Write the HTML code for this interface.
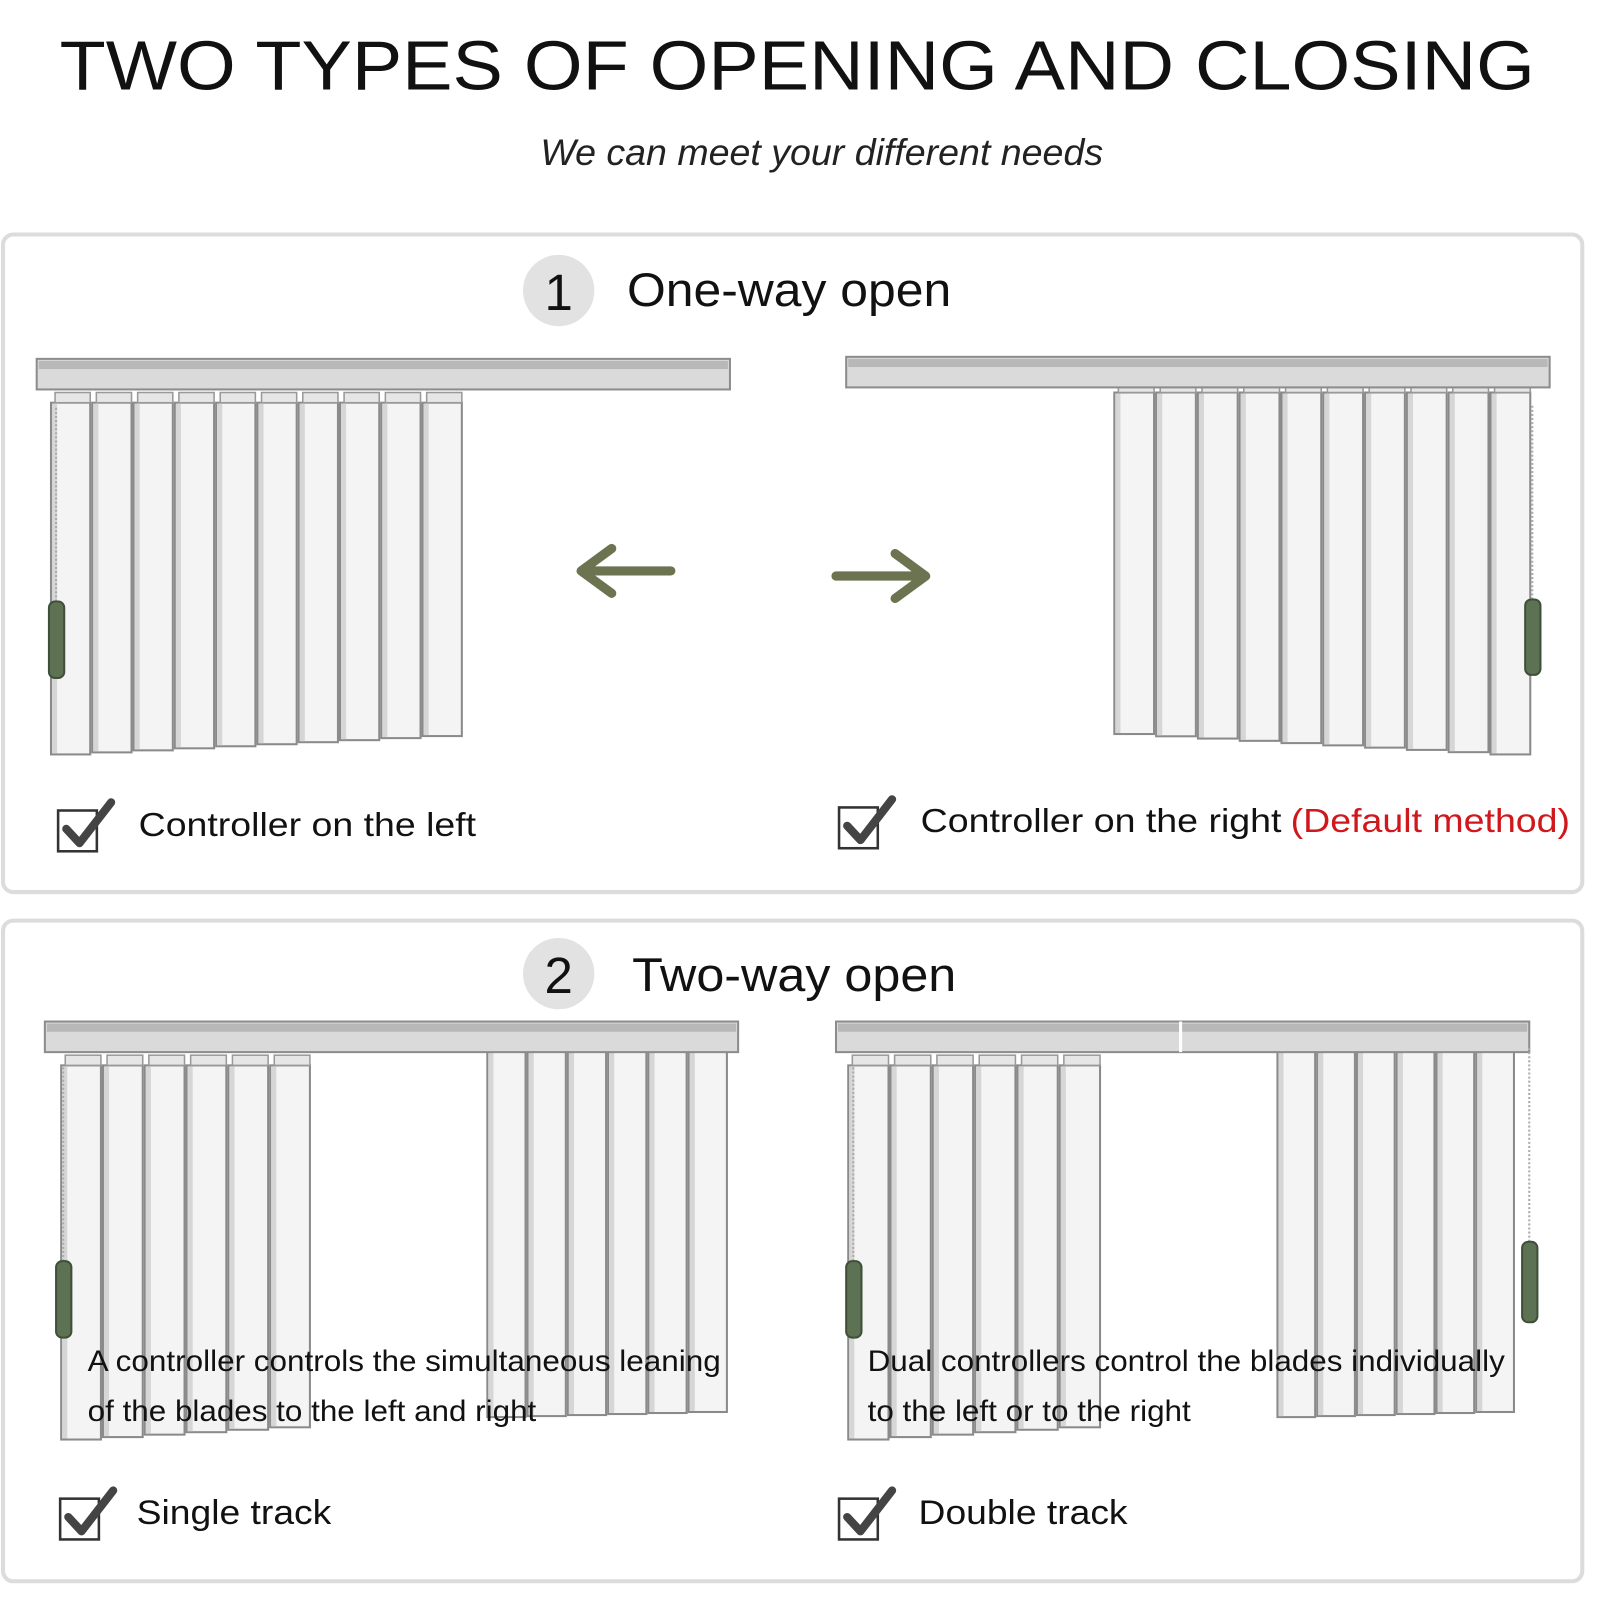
<!DOCTYPE html>
<html><head><meta charset="utf-8"><style>
html,body{margin:0;padding:0;background:#fff;overflow:hidden;}
svg{display:block;font-family:"Liberation Sans",sans-serif;}
</style></head><body>
<svg id="s" width="1600" height="1600" viewBox="0 0 1600 1600">
<rect x="0" y="0" width="1600" height="1600" fill="#fff"/>
<g transform="scale(1.0195)">
<text x="782" y="88" font-size="68" text-anchor="middle" textLength="1447" lengthAdjust="spacingAndGlyphs" fill="#111">TWO TYPES OF OPENING AND CLOSING</text>
<text x="806" y="162" font-size="36" font-style="italic" text-anchor="middle" textLength="552" lengthAdjust="spacingAndGlyphs" fill="#222">We can meet your different needs</text>

<rect x="3" y="230" width="1549" height="645" rx="10" fill="#fff" stroke="#dcdcdc" stroke-width="4"/>
<rect x="3" y="903" width="1549" height="648" rx="10" fill="#fff" stroke="#dcdcdc" stroke-width="4"/>

<circle cx="548" cy="285" r="35" fill="#e2e2e2"/>
<text x="548" y="304" font-size="50" text-anchor="middle" fill="#111">1</text>
<text x="615" y="300" font-size="46" textLength="318" lengthAdjust="spacingAndGlyphs" fill="#111">One-way open</text>

<circle cx="548" cy="955" r="35" fill="#e2e2e2"/>
<text x="548" y="974" font-size="50" text-anchor="middle" fill="#111">2</text>
<text x="620" y="972" font-size="46" textLength="318" lengthAdjust="spacingAndGlyphs" fill="#111">Two-way open</text>

<g fill="none" stroke="#6b7350" stroke-width="9" stroke-linecap="round" stroke-linejoin="round">
<path d="M658 560 H572 M600 538 L570 560 L600 582"/>
<path d="M820 565 H906 M878 543 L908 565 L878 587"/>
</g>

<g id="blinds"></g>

<g font-size="33" fill="#111">
<text x="136" y="820" textLength="331" lengthAdjust="spacingAndGlyphs">Controller on the left</text>
<text x="903" y="816" textLength="354" lengthAdjust="spacingAndGlyphs">Controller on the right</text>
<text x="1266" y="816" textLength="274" lengthAdjust="spacingAndGlyphs" fill="#d0171b">(Default method)</text>
<text x="134" y="1495" font-size="34" textLength="191" lengthAdjust="spacingAndGlyphs">Single track</text>
<text x="901" y="1495" font-size="34" textLength="205" lengthAdjust="spacingAndGlyphs">Double track</text>
</g>
<g font-size="29" fill="#111">
<text x="86" y="1345" textLength="621" lengthAdjust="spacingAndGlyphs">A controller controls the simultaneous leaning</text>
<text x="86" y="1394" textLength="440" lengthAdjust="spacingAndGlyphs">of the blades to the left and right</text>
<text x="851" y="1345" textLength="625" lengthAdjust="spacingAndGlyphs">Dual controllers control the blades individually</text>
<text x="851" y="1394" textLength="317" lengthAdjust="spacingAndGlyphs">to the left or to the right</text>
</g>
</g>
</svg>
<script>
// rails: x1, x2, top y
const railX1=[36,830,44,820];
const railX2=[716,1520,724,1500];
const railY=[352,350,1002,1002];
// blade groups: start x, count, pitch, top, bottom-first, bottom-last
const grpX=[50,1093,60,478,832,1253];
const grpN=[10,10,6,6,6,6];
const grpPitch=[40.5,41,41,39.5,41.5,39];
const grpTop=[395,385,1045,1030,1045,1030];
const grpBotA=[740,720,1412,1390,1412,1390];
const grpBotB=[722,740,1400,1385,1400,1385];
// controllers: x, y top, y bottom
const ctrlX=[48,1496,55,830,1493];
const ctrlY1=[590,588,1237,1237,1218];
const ctrlY2=[665,662,1312,1312,1297];
// checkboxes
const cbX=[57,823,59,823];
const cbY=[795,792,1470,1470];

const NS='http://www.w3.org/2000/svg';
const g=document.getElementById('blinds');
function mk(t,a,p){const e=document.createElementNS(NS,t);for(const k in a)e.setAttribute(k,a[k]);(p||g).appendChild(e);return e;}

for(let i=0;i<grpX.length;i++){
  for(let j=0;j<grpN[i];j++){
    const x=grpX[i]+j*grpPitch[i];
    const b=grpBotA[i]+(grpBotB[i]-grpBotA[i])*j/Math.max(1,grpN[i]-1);
    const w=grpPitch[i]-2;
    const r=mk('rect',{x:x,y:grpTop[i],width:w,height:b-grpTop[i],fill:'#f4f4f4',stroke:'#8a8a8a','stroke-width':2});
    
    
    const sh=mk('rect',{x:x+1,y:grpTop[i]+1,width:5,height:b-grpTop[i]-2,fill:'#d6d6d6'});
    
    
    const hk=mk('rect',{x:x+4,y:grpTop[i]-10,width:w-4,height:10,fill:'#e6e6e6',stroke:'#999','stroke-width':1.5});
    
    
  }
}
for(let i=0;i<railX1.length;i++){
  const r=mk('rect',{x:railX1[i],y:railY[i],width:railX2[i]-railX1[i],height:30,fill:'#dadada',stroke:'#8c8c8c','stroke-width':2});
  
  
  const l=mk('rect',{x:railX1[i]+2,y:railY[i]+2,width:railX2[i]-railX1[i]-4,height:8,fill:'#b8b8b8'});
  
  
}
const sp=mk('line',{x1:1158,y1:1002,x2:1158,y2:1032,stroke:'#fff','stroke-width':3});


for(let i=0;i<ctrlX.length;i++){
  const c=mk('line',{x1:ctrlX[i]+7,y1:ctrlY1[i]-190,x2:ctrlX[i]+7,y2:ctrlY1[i],stroke:'#aaa','stroke-width':2,'stroke-dasharray':'2 2'});
  
  
  const k=mk('rect',{x:ctrlX[i],y:ctrlY1[i],width:15,height:ctrlY2[i]-ctrlY1[i],rx:6,fill:'#5d7253',stroke:'#3f4f3a','stroke-width':2});
  
  
}
for(let i=0;i<cbX.length;i++){
  const x=cbX[i],y=cbY[i];
  const b=mk('rect',{x:x,y:y,width:38,height:40,fill:'#fff',stroke:'#333','stroke-width':2.5});
  
  
  const m=mk('path',{d:`M${x+8} ${y+18} L${x+21} ${y+32} L${x+52} ${y-8}`,fill:'none',stroke:'#444','stroke-width':8,'stroke-linecap':'round','stroke-linejoin':'round'});
  
  
}
</script>
</body></html>
